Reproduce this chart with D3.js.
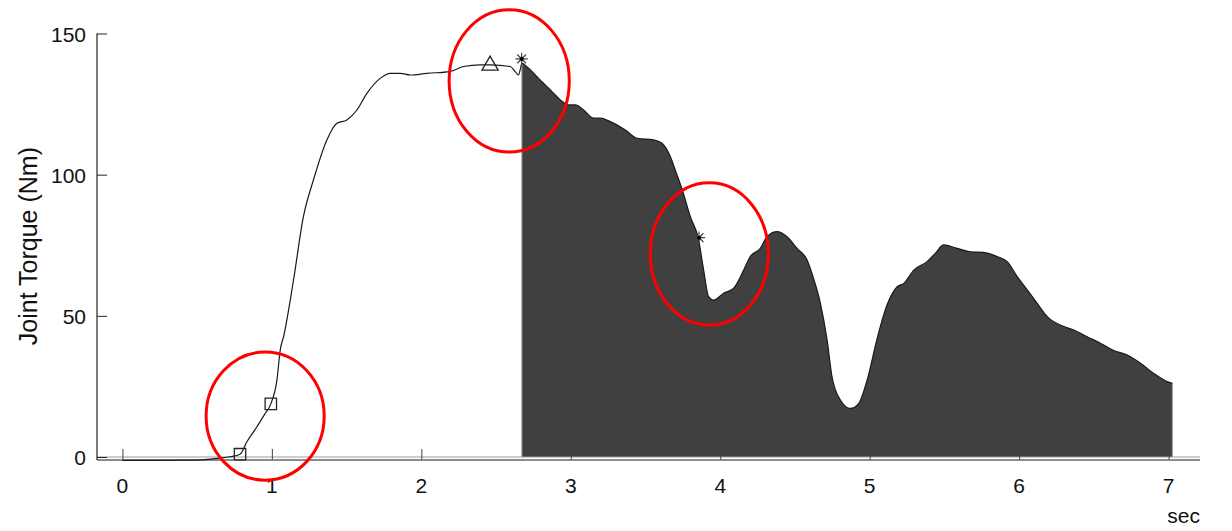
<!DOCTYPE html>
<html>
<head>
<meta charset="utf-8">
<script src="https://cdn.jsdelivr.net/npm/d3@7"></script>
<style>
  html, body { margin: 0; padding: 0; background: #fff; }
  svg { display: block; font-family: "Liberation Sans", Arial, sans-serif; }
</style>
</head>
<body>
<svg id="chart" width="1232" height="531"></svg>
<script>
// ---------- data ----------
const timeSec = [
  0.00, 0.20, 0.40, 0.55, 0.65, 0.72, 0.787, 0.833, 0.90, 0.95, 0.993, 1.034, 1.056, 1.08,
  1.145, 1.211, 1.278, 1.368, 1.435, 1.502, 1.569, 1.636, 1.725, 1.792, 1.859, 1.926, 2.037,
  2.19, 2.283, 2.394, 2.46, 2.595, 2.628, 2.65, 2.662, 2.673, 2.70, 2.729, 2.762, 2.796,
  2.829, 2.874, 2.93, 2.985, 3.03, 3.086, 3.153, 3.197, 3.264, 3.365, 3.443, 3.554, 3.61,
  3.666, 3.70, 3.75, 3.80, 3.853, 3.889, 3.922, 3.956, 4.023, 4.09, 4.157, 4.201, 4.268,
  4.313, 4.38, 4.447, 4.514, 4.581, 4.62, 4.67, 4.715, 4.748, 4.804, 4.871, 4.927, 4.983,
  5.05, 5.117, 5.184, 5.228, 5.295, 5.384, 5.44, 5.495, 5.585, 5.674, 5.763, 5.852, 5.92,
  5.987, 6.054, 6.121, 6.188, 6.299, 6.366, 6.455, 6.544, 6.633, 6.723, 6.812, 6.901, 6.99,
  7.025
];
const torqueNm = [
  -1.2, -1.2, -1.1, -0.9, -0.4, 0.1, 1.0, 5.4, 10.7, 15.0, 18.8, 27.3, 37.9, 43.0,
  62.7, 85.1, 98.1, 112.3, 118.2, 119.4, 122.9, 128.8, 134.1, 135.9, 135.9, 135.3, 135.9,
  136.5, 138.3, 138.9, 138.9, 138.3, 136.5, 135.3, 137.2, 139.5, 138.5, 137.2, 135.3, 133.5,
  131.8, 129.4, 126.5, 124.7, 124.7, 122.9, 120.0, 120.0, 118.8, 115.8, 112.9, 112.3, 111.1,
  106.4, 101.5, 94.0, 85.1, 77.5, 66.2, 56.8, 55.6, 58.0, 59.8, 66.2, 71.0, 73.9,
  78.0, 79.8, 78.0, 73.9, 69.8, 64.0, 54.5, 41.4, 28.4, 20.2, 17.2, 19.0, 27.3,
  42.0, 54.0, 60.3, 61.5, 66.2, 69.2, 72.2, 75.1, 73.9, 72.7, 72.5, 71.0, 69.2,
  63.9, 59.2, 54.4, 49.7, 46.2, 45.0, 42.6, 40.3, 37.7, 36.1, 33.2, 29.6, 26.7,
  26.1
];
const fillStartSec = 2.673;

const xTicks = [0, 1, 2, 3, 4, 5, 6, 7];
const yTicks = [0, 50, 100, 150];
const xDomain = [-0.17, 7.21];
const yDomain = [0, 150];

const squareMarkers = [{t: 0.787, v: 1.0}, {t: 0.993, v: 18.8}];
const triangleMarkers = [{t: 2.46, v: 138.7}];
const starMarkers = [{t: 2.671, v: 141.0}, {t: 3.858, v: 77.7}];
// annotation ellipses: centre (t, v), radii in data units
const ellipseCx = [0.955, 2.588, 3.927];
const ellipseCy = [14.5, 133.2, 71.9];
const ellipseRx = [0.395, 0.402, 0.395];
const ellipseRy = [22.7, 25.2, 25.2];

const yLabel = "Joint Torque (Nm)";
const xUnit = "sec";

// ---------- drawing ----------
const svg = d3.select("#chart");
const x = d3.scaleLinear().domain(xDomain).range([97, 1200]);
const y = d3.scaleLinear().domain(yDomain).range([457, 33.5]);

const data = timeSec.map((t, i) => ({t, v: torqueNm[i]}));
const fillData = data.filter(d => d.t >= fillStartSec);

// filled area
const area = d3.area()
  .x(d => x(d.t)).y0(y(0)).y1(d => y(d.v))
  .curve(d3.curveMonotoneX);
svg.append("path").datum(fillData)
  .attr("d", area)
  .attr("fill", "#404040")
  .attr("stroke", "none");
// light edges of filled region
[fillData[0], fillData[fillData.length - 1]].forEach(d => {
  svg.append("line")
    .attr("x1", x(d.t)).attr("x2", x(d.t))
    .attr("y1", y(0)).attr("y2", y(d.v))
    .attr("stroke", "#999").attr("stroke-width", 1);
});

// zero line
svg.append("line")
  .attr("x1", x(xDomain[0])).attr("x2", x(xDomain[1]))
  .attr("y1", y(0)).attr("y2", y(0))
  .attr("stroke", "#9a9a9a").attr("stroke-width", 1);

// x axis (ticks inward / upward)
const xAxis = d3.axisTop(x).tickValues(xTicks).tickSize(11).tickFormat("");
const gx = svg.append("g").attr("transform", "translate(0,460)").call(xAxis);
gx.select(".domain").remove();
gx.selectAll(".tick line").attr("stroke", "#444").attr("stroke-width", 1);
gx.append("line")
  .attr("x1", x(xDomain[0])).attr("x2", x(xDomain[1]))
  .attr("y1", 0).attr("y2", 0)
  .attr("stroke", "#666").attr("stroke-width", 1.5);
svg.append("g").selectAll("text").data(xTicks).join("text")
  .attr("x", d => x(d)).attr("y", 493)
  .attr("text-anchor", "middle")
  .attr("font-size", 21).attr("fill", "#111")
  .text(d => d);

// y axis (ticks inward / right)
const yAxis = d3.axisRight(y).tickValues(yTicks).tickSize(10).tickFormat("");
const gy = svg.append("g").attr("transform", "translate(97,0)").call(yAxis);
gy.select(".domain").remove();
gy.selectAll(".tick line").attr("stroke", "#222").attr("stroke-width", 1);
gy.append("line")
  .attr("x1", 0).attr("x2", 0)
  .attr("y1", y(150)).attr("y2", 460)
  .attr("stroke", "#222").attr("stroke-width", 1.2);
svg.append("g").selectAll("text").data(yTicks).join("text")
  .attr("x", 86).attr("y", d => y(d) + 8)
  .attr("text-anchor", "end")
  .attr("font-size", 21).attr("fill", "#111")
  .text(d => d);

// axis labels
svg.append("text")
  .attr("transform", "translate(37,147) rotate(-90)")
  .attr("text-anchor", "end")
  .attr("font-size", 25).attr("fill", "#111")
  .text(yLabel);
svg.append("text")
  .attr("x", 1200).attr("y", 523)
  .attr("text-anchor", "end")
  .attr("font-size", 21).attr("fill", "#111")
  .text(xUnit);

// torque line
const line = d3.line().x(d => x(d.t)).y(d => y(d.v)).curve(d3.curveMonotoneX);
svg.append("path").datum(data)
  .attr("d", line)
  .attr("fill", "none")
  .attr("stroke", "#1a1a1a").attr("stroke-width", 1.2);

// markers
svg.append("g").selectAll("path").data(squareMarkers).join("path")
  .attr("transform", d => `translate(${x(d.t)},${y(d.v)})`)
  .attr("d", d3.symbol().type(d3.symbolSquare).size(130)())
  .attr("fill", "none").attr("stroke", "#222").attr("stroke-width", 1.3);
svg.append("g").selectAll("path").data(triangleMarkers).join("path")
  .attr("transform", d => `translate(${x(d.t)},${y(d.v)})`)
  .attr("d", d3.symbol().type(d3.symbolTriangle).size(113)())
  .attr("fill", "none").attr("stroke", "#222").attr("stroke-width", 1.3);
const starR = 6.2, starD = starR * Math.SQRT1_2;
const starPath = `M${-starR},0L${starR},0M0,${-starR}L0,${starR}` +
  `M${-starD},${-starD}L${starD},${starD}M${-starD},${starD}L${starD},${-starD}`;
const starG = svg.append("g").selectAll("g").data(starMarkers).join("g")
  .attr("transform", d => `translate(${x(d.t)},${y(d.v)})`);
starG.append("path")
  .attr("d", starPath)
  .attr("fill", "none").attr("stroke", "#444").attr("stroke-width", 1.2);
starG.append("circle").attr("r", 2).attr("fill", "#000");

// red annotation ellipses
svg.append("g").selectAll("ellipse").data(ellipseCx).join("ellipse")
  .attr("cx", (d, i) => x(d))
  .attr("cy", (d, i) => y(ellipseCy[i]))
  .attr("rx", (d, i) => x(ellipseRx[i]) - x(0))
  .attr("ry", (d, i) => y(0) - y(ellipseRy[i]))
  .attr("fill", "none").attr("stroke", "#f00").attr("stroke-width", 3);
</script>
</body>
</html>
